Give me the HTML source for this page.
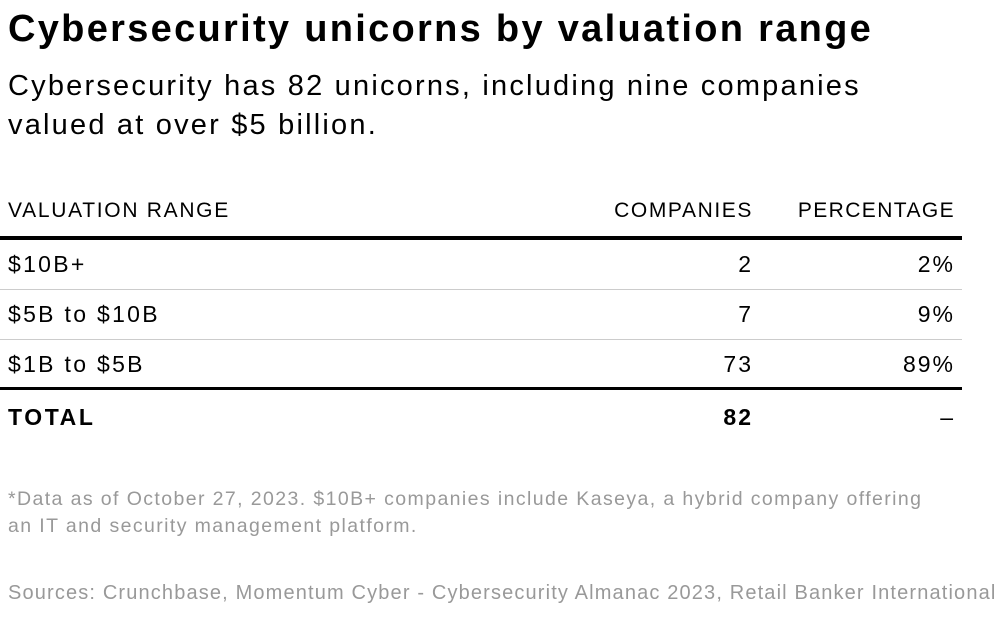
<!DOCTYPE html>
<html><head><meta charset="utf-8"><style>
body{margin:0;width:1005px;height:626px;background:#fff;font-family:"Liberation Sans",sans-serif;color:#000;position:relative;overflow:hidden}
.a{position:absolute;white-space:nowrap}
</style></head><body>
<div class="a" style="left:8px;top:8px;font-size:38px;font-weight:bold;letter-spacing:2.3px">Cybersecurity unicorns by valuation range</div>
<div class="a" style="left:8px;top:67px;font-size:29px;line-height:39px;letter-spacing:2.2px">Cybersecurity has 82 unicorns, including nine companies<br>valued at over $5 billion.</div>
<div id="tbl"></div>
<div class="a" style="left:8px;top:486px;font-size:19.5px;line-height:27px;color:#999;letter-spacing:1.4px">*Data as of October 27, 2023. $10B+ companies include Kaseya, a hybrid company offering<br>an IT and security management platform.</div>
<div class="a" style="left:8px;top:582px;font-size:20px;color:#999;letter-spacing:1.15px">Sources: Crunchbase, Momentum Cyber - Cybersecurity Almanac 2023, Retail Banker International</div>
<script>
const ranges=["$10B+","$5B to $10B","$1B to $5B"];
const companies=[2,7,73];
const percentages=["2%","9%","89%"];
const total=82;
const t=document.getElementById('tbl');
function add(html,style,name){const d=document.createElement('div');d.className='a';d.style.cssText=style;d.innerHTML=html;


t.appendChild(d);return d;}
add('VALUATION RANGE','left:8px;top:199px;font-size:21px;letter-spacing:1.7px','header-valuation-range');
add('COMPANIES','right:252px;top:199px;font-size:21px;letter-spacing:1.6px','header-companies');
add('PERCENTAGE','right:50px;top:199px;font-size:21px;letter-spacing:1.4px','header-percentage');
add('','left:0;top:236px;width:962px;height:4px;background:#000','header-rule');
for(let i=0;i<ranges.length;i++){
 const y=251+i*50;
 add(ranges[i],'left:8px;top:'+y+'px;font-size:23px;letter-spacing:2.3px','row-label');
 add(String(companies[i]),'right:252px;top:'+y+'px;font-size:23px;letter-spacing:2px','row-companies');
 add(percentages[i],'right:50px;top:'+y+'px;font-size:23px;letter-spacing:2px','row-percentage');
 if(i<ranges.length-1) add('','left:0;top:'+(y+38)+'px;width:962px;height:1px;background:#ccc','row-separator');
}
add('','left:0;top:387px;width:962px;height:3px;background:#000','total-rule');
add('TOTAL','left:8px;top:404px;font-size:23px;font-weight:bold;letter-spacing:2.6px','total-label');
add(String(total),'right:252px;top:404px;font-size:23px;font-weight:bold;letter-spacing:2px','total-companies');
add('–','right:52px;top:404px;font-size:23px','total-percentage');
</script>
</body></html>
